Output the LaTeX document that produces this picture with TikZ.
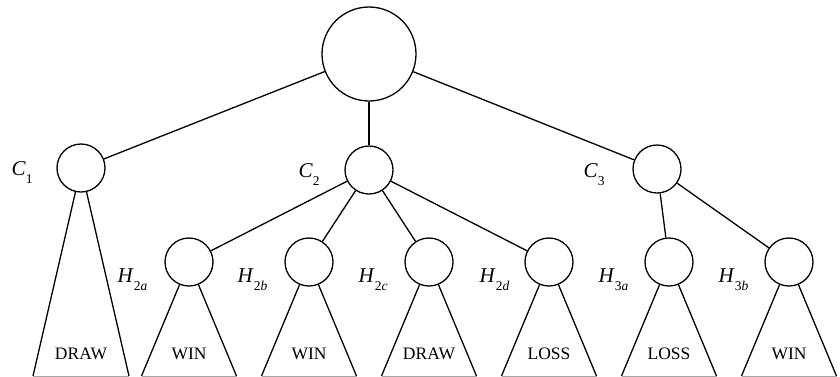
\documentclass[tikz,border=0pt]{standalone}
\usepackage{fontspec}
\setmainfont{Liberation Serif}
\newcommand\lbl[2]{\textit{#1}\raisebox{-8.5pt}{\fontsize{13.5}{13.5}\selectfont #2}}
\begin{document}
\begin{tikzpicture}[x=1pt,y=-1pt,line width=1.3pt,
  bignode/.style={circle,draw,minimum size=94pt,inner sep=0pt},
  smallnode/.style={circle,draw,minimum size=48pt,inner sep=0pt},
  namelab/.style={anchor=base west,inner sep=0pt,font=\fontsize{21}{21}\selectfont},
  leaflab/.style={inner sep=0pt,font=\fontsize{17.5}{17.5}\selectfont},
  baseline/.style={draw=black!35,line width=0.8pt}]
\useasboundingbox (0,0) rectangle (840,376);
\node[bignode] (root) at (369,54) {};
\node[smallnode] (c1) at (81,168) {};
\node[smallnode] (c2) at (369,170) {};
\node[smallnode] (c3) at (657,169) {};
\foreach \n/\x in {h2a/189,h2b/309,h2c/429,h2d/549,h3a/669,h3b/789}{
  \node[smallnode] (\n) at (\x,262) {};
  \coordinate (\n L) at (\x-47.5,376);
  \coordinate (\n R) at (\x+47.5,376);
}
\coordinate (c1L) at (33,376);
\coordinate (c1R) at (129,376);
% edges
\draw (root) -- (c1);
\draw (root) -- (c2);
\draw (root) -- (c3);
\draw (c2) -- (h2a);
\draw (c2) -- (h2b);
\draw (c2) -- (h2c);
\draw (c2) -- (h2d);
\draw (c3) -- (h3a);
\draw (c3) -- (h3b);
% subtrees
\foreach \n in {c1,h2a,h2b,h2c,h2d,h3a,h3b}{
  \draw (\n) -- (\n L);
  \draw (\n) -- (\n R);
  \draw[baseline] (\n L) -- (\n R);
}
% labels
\node[namelab] (lc1) at (11,175) {\lbl{C}{1}};
\node[namelab] (lc2) at (298,177) {\lbl{C}{2}};
\node[namelab] (lc3) at (583,177) {\lbl{C}{3}};
\node[namelab] (l2a) at (117,282) {\lbl{H}{2\textit{a}}};
\node[namelab] (l2b) at (237,282) {\lbl{H}{2\textit{b}}};
\node[namelab] (l2c) at (358,282) {\lbl{H}{2\textit{c}}};
\node[namelab] (l2d) at (479,282) {\lbl{H}{2\textit{d}}};
\node[namelab] (l3a) at (598,282) {\lbl{H}{3\textit{a}}};
\node[namelab] (l3b) at (718,282) {\lbl{H}{3\textit{b}}};
\node[leaflab] (t1) at (81,354) {DRAW};
\node[leaflab] (t2) at (189,354) {WIN};
\node[leaflab] (t3) at (309,354) {WIN};
\node[leaflab] (t4) at (429,354) {DRAW};
\node[leaflab] (t5) at (549,354) {LOSS};
\node[leaflab] (t6) at (669,354) {LOSS};
\node[leaflab] (t7) at (789,354) {WIN};
\end{tikzpicture}
\end{document}
